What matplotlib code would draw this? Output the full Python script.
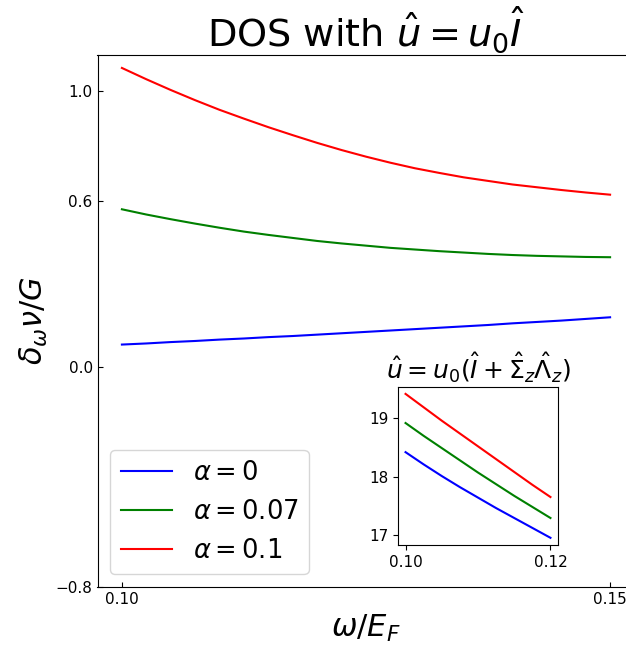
import numpy as np
import matplotlib.pyplot as plt

# main panel data
omega = [0.1000, 0.1025, 0.1050, 0.1075, 0.1100, 0.1125, 0.1150, 0.1175, 0.1200, 0.1225,
         0.1250, 0.1275, 0.1300, 0.1325, 0.1350, 0.1375, 0.1400, 0.1425, 0.1450, 0.1475, 0.1500]
dos_a0 = [0.080, 0.084, 0.089, 0.093, 0.098, 0.102, 0.107, 0.111, 0.116, 0.121,
          0.126, 0.131, 0.136, 0.141, 0.146, 0.151, 0.157, 0.162, 0.167, 0.173, 0.179]
dos_a007 = [0.571, 0.552, 0.535, 0.519, 0.504, 0.490, 0.478, 0.467, 0.456, 0.447,
            0.439, 0.431, 0.425, 0.419, 0.414, 0.409, 0.405, 0.402, 0.400, 0.398, 0.397]
dos_a01 = [1.084, 1.043, 1.004, 0.967, 0.932, 0.900, 0.869, 0.840, 0.812, 0.786,
           0.762, 0.740, 0.720, 0.703, 0.687, 0.674, 0.661, 0.651, 0.641, 0.632, 0.624]

# inset data
omega_in = [0.1000, 0.1025, 0.1050, 0.1075, 0.1100, 0.1125, 0.1150, 0.1175, 0.1200]
ins_a0 = [18.42, 18.21, 18.01, 17.82, 17.64, 17.46, 17.29, 17.12, 16.95]
ins_a007 = [18.92, 18.70, 18.49, 18.28, 18.07, 17.87, 17.67, 17.48, 17.29]
ins_a01 = [19.42, 19.19, 18.96, 18.74, 18.52, 18.30, 18.08, 17.86, 17.65]

labels = [r'$\alpha = 0$', r'$\alpha = 0.07$', r'$\alpha = 0.1$']
colors = ['blue', 'green', 'red']

fig = plt.figure(figsize=(6.26, 6.52), dpi=100)
ax = fig.add_axes([97.5/626, 65/652, 537/626, 532/652])

for y, c, lab in zip([dos_a0, dos_a007, dos_a01], colors, labels):
    ax.plot(omega, y, color=c, lw=1.5, label=lab)

ax.set_xlim(0.0975, 0.1525)
ax.set_ylim(-0.8, 1.131)
ax.set_xticks([0.10, 0.15])
ax.set_xticklabels(['0.10', '0.15'])
ax.set_yticks([-0.8, 0.0, 0.6, 1.0])
ax.set_yticklabels(['\u22120.8', '0.0', '0.6', '1.0'])
ax.tick_params(direction='in', labelsize=11)
ax.set_xlabel(r'$\omega/E_F$', fontsize=22)
ax.set_ylabel(r'$\delta_\omega \nu/G$', fontsize=22)
ax.set_title(r'DOS with $\hat{u} = u_0\hat{I}$', fontsize=27.5)
ax.legend(loc='lower left', fontsize=18.5)

# inset
axin = fig.add_axes([398.3/626, 107/652, 159.4/626, 158.3/652])
for y, c in zip([ins_a0, ins_a007, ins_a01], colors):
    axin.plot(omega_in, y, color=c, lw=1.5)
axin.set_xticks([0.10, 0.12])
axin.set_xticklabels(['0.10', '0.12'])
axin.set_yticks([17, 18, 19])
axin.tick_params(labelsize=11)
axin.set_title(r'$\hat{u} = u_0(\hat{I} + \hat{\Sigma}_z\hat{\Lambda}_z)$', fontsize=18)

fig.savefig('out.png', dpi=100)
